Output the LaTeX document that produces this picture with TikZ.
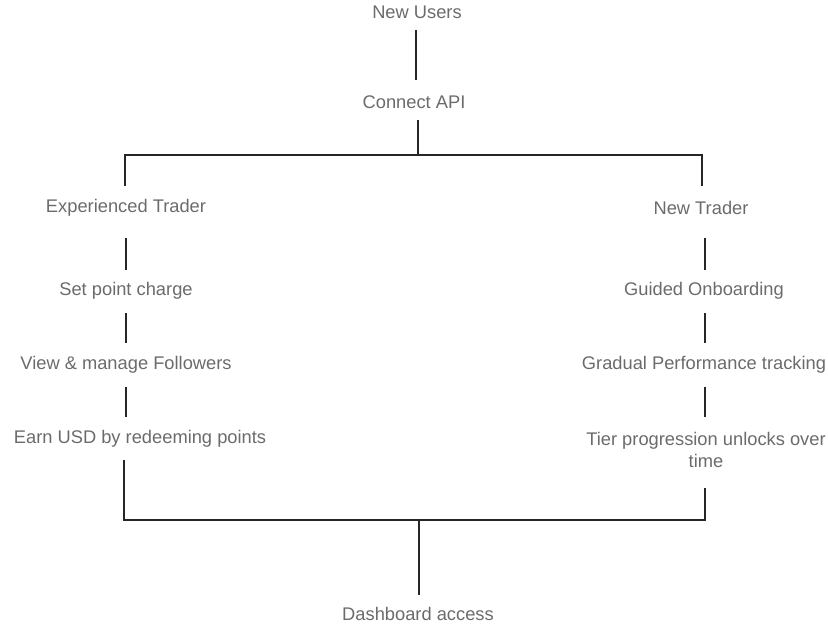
\documentclass[tikz,border=0pt]{standalone}
\usepackage{fontspec}
\setmainfont{Liberation Sans}
\begin{document}
\begin{tikzpicture}[x=1pt,y=-1pt,
  lbl/.style={text=black!58,font=\fontsize{18.3}{22}\selectfont,inner sep=0pt,align=center},
  ln/.style={draw=black!85,line width=1.1pt}]
\useasboundingbox (0,0) rectangle (828,626);
\node[lbl] (nu) at (417,12) {New Users};
\node[lbl] (ca) at (414,102) {Connect API};
\node[lbl] (et) at (126,208) {Experienced Trader};
\node[lbl] (nt) at (701,208) {New Trader};
\node[lbl] (sp) at (126,291) {Set point charge};
\node[lbl] (vm) at (126,365) {View \& manage Followers};
\node[lbl] (eu) at (140,439) {Earn USD by redeeming points};
\node[lbl] (go) at (704,291) {Guided Onboarding};
\node[lbl] (gp) at (704,365) {Gradual Performance tracking};
\node[lbl] (tp) at (706,450) {Tier progression unlocks over\\time};
\node[lbl] (da) at (418,614) {Dashboard access};
\coordinate (a1) at (416,30); \coordinate (a2) at (416,80);
\draw[ln] (a1) -- (a2);
\coordinate (b1) at (418,120); \coordinate (b2) at (418,155);
\coordinate (bl) at (125,155); \coordinate (br) at (702,155);
\draw[ln] (b1) -- (b2); \draw[ln] (125,186) -- (bl) -- (br) -- (702,186);
\draw[ln] (126,238) -- (126,270);
\draw[ln] (126,313) -- (126,343);
\draw[ln] (126,387) -- (126,417);
\draw[ln] (705,238) -- (705,270);
\draw[ln] (705,313) -- (705,343);
\draw[ln] (705,387) -- (705,417);
\coordinate (cl) at (124,520); \coordinate (cr) at (705,520);
\draw[ln] (124,460) -- (cl) -- (cr) -- (705,488);
\draw[ln] (419,520) -- (419,595);
\end{tikzpicture}
\end{document}
